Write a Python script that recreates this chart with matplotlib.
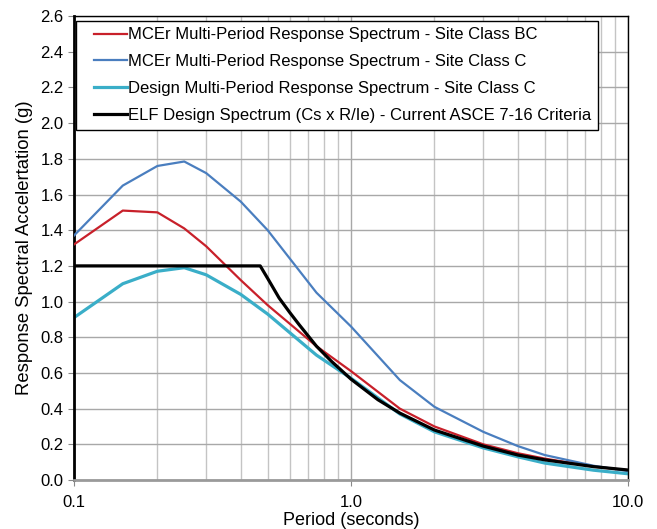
import matplotlib
matplotlib.use('Agg')
import matplotlib.pyplot as plt
from matplotlib.lines import Line2D
from matplotlib.legend_handler import HandlerLine2D
from matplotlib.ticker import FixedLocator, LogLocator, NullFormatter

plt.rcParams['font.family'] = ['Liberation Sans', 'DejaVu Sans']

# periods (s) for the multi-period spectra
periods = [0.1, 0.15, 0.2, 0.25, 0.3, 0.4, 0.5, 0.75, 1.0, 1.5, 2.0, 3.0, 4.0, 5.0, 7.5, 10.0]
mcer_bc = [1.32, 1.51, 1.50, 1.41, 1.31, 1.12, 0.98, 0.75, 0.61, 0.40, 0.30, 0.20, 0.15, 0.12, 0.075, 0.055]
mcer_c = [1.37, 1.65, 1.76, 1.785, 1.72, 1.56, 1.40, 1.05, 0.86, 0.56, 0.41, 0.27, 0.19, 0.14, 0.08, 0.05]
design_c = [0.91, 1.10, 1.17, 1.19, 1.15, 1.04, 0.93, 0.70, 0.57, 0.37, 0.27, 0.18, 0.13, 0.095, 0.055, 0.035]

# ELF design spectrum
elf_periods = [0.1, 0.47, 0.5, 0.55, 0.6, 0.65, 0.75, 0.85, 1.0, 1.25, 1.5, 2.0, 3.0, 4.0, 5.0, 7.5, 10.0]
elf_values = [1.2, 1.2, 1.13, 1.02, 0.94, 0.87, 0.75, 0.665, 0.565, 0.45, 0.375, 0.28, 0.19, 0.14, 0.113, 0.075, 0.056]

labels = ['MCEr Multi-Period Response Spectrum - Site Class BC',
          'MCEr Multi-Period Response Spectrum - Site Class C',
          'Design Multi-Period Response Spectrum - Site Class C',
          'ELF Design Spectrum (Cs x R/Ie) - Current ASCE 7-16 Criteria']

fig = plt.figure(figsize=(6.57, 5.29), dpi=100)
ax = fig.add_axes([0.1126, 0.0926, 0.8435, 0.877])

ax.plot(periods, mcer_bc, color='#c8202a', lw=1.6, label=labels[0], zorder=3)
ax.plot(periods, mcer_c, color='#4a7ebf', lw=1.6, label=labels[1], zorder=3)
ax.plot(periods, design_c, color='#3aaec8', lw=2.3, label=labels[2], zorder=2)
ax.plot(elf_periods, elf_values, color='black', lw=2.3, label=labels[3], zorder=4)

ax.set_xscale('log')
ax.set_xlim(0.1, 10)
ax.set_ylim(0, 2.6)
ax.xaxis.set_major_locator(FixedLocator([0.1, 1.0, 10.0]))
ax.set_xticklabels(['0.1', '1.0', '10.0'])
ax.xaxis.set_minor_locator(LogLocator(base=10, subs=range(2, 10)))
ax.xaxis.set_minor_formatter(NullFormatter())
ax.set_yticks([i * 0.2 for i in range(14)])
ax.set_yticklabels(['%.1f' % (i * 0.2) for i in range(14)])

ax.grid(True, which='major', color='#a8a8a8', lw=1.0, zorder=0)
ax.grid(True, which='minor', axis='x', color='#c4c4c4', lw=1.0, zorder=0)
ax.set_axisbelow(True)

ax.tick_params(axis='both', which='major', labelsize=12, length=4, color='#888888')
ax.tick_params(axis='x', which='minor', length=0)
ax.tick_params(axis='x', pad=7)

ax.spines['left'].set_linewidth(2)
ax.spines['left'].set_color('black')
ax.spines['bottom'].set_linewidth(2)
ax.spines['bottom'].set_color('#9a9a9a')
ax.spines['top'].set_linewidth(1)
ax.spines['right'].set_linewidth(1)

ax.set_xlabel('Period (seconds)', fontsize=13, labelpad=1)
ax.set_ylabel('Response Spectral Accelertation (g)', fontsize=13.3, labelpad=5)

leg = ax.legend(loc='upper left', bbox_to_anchor=(0.004, 0.99), fontsize=12,
                frameon=True, fancybox=False, framealpha=1, edgecolor='black',
                handlelength=2.63, handletextpad=0.1, labelspacing=0.71,
                borderpad=0.4, borderaxespad=0,
                handler_map={Line2D: HandlerLine2D(xpad=0.66)})
leg.get_frame().set_linewidth(1.0)

fig.savefig('out.png', dpi=100)
